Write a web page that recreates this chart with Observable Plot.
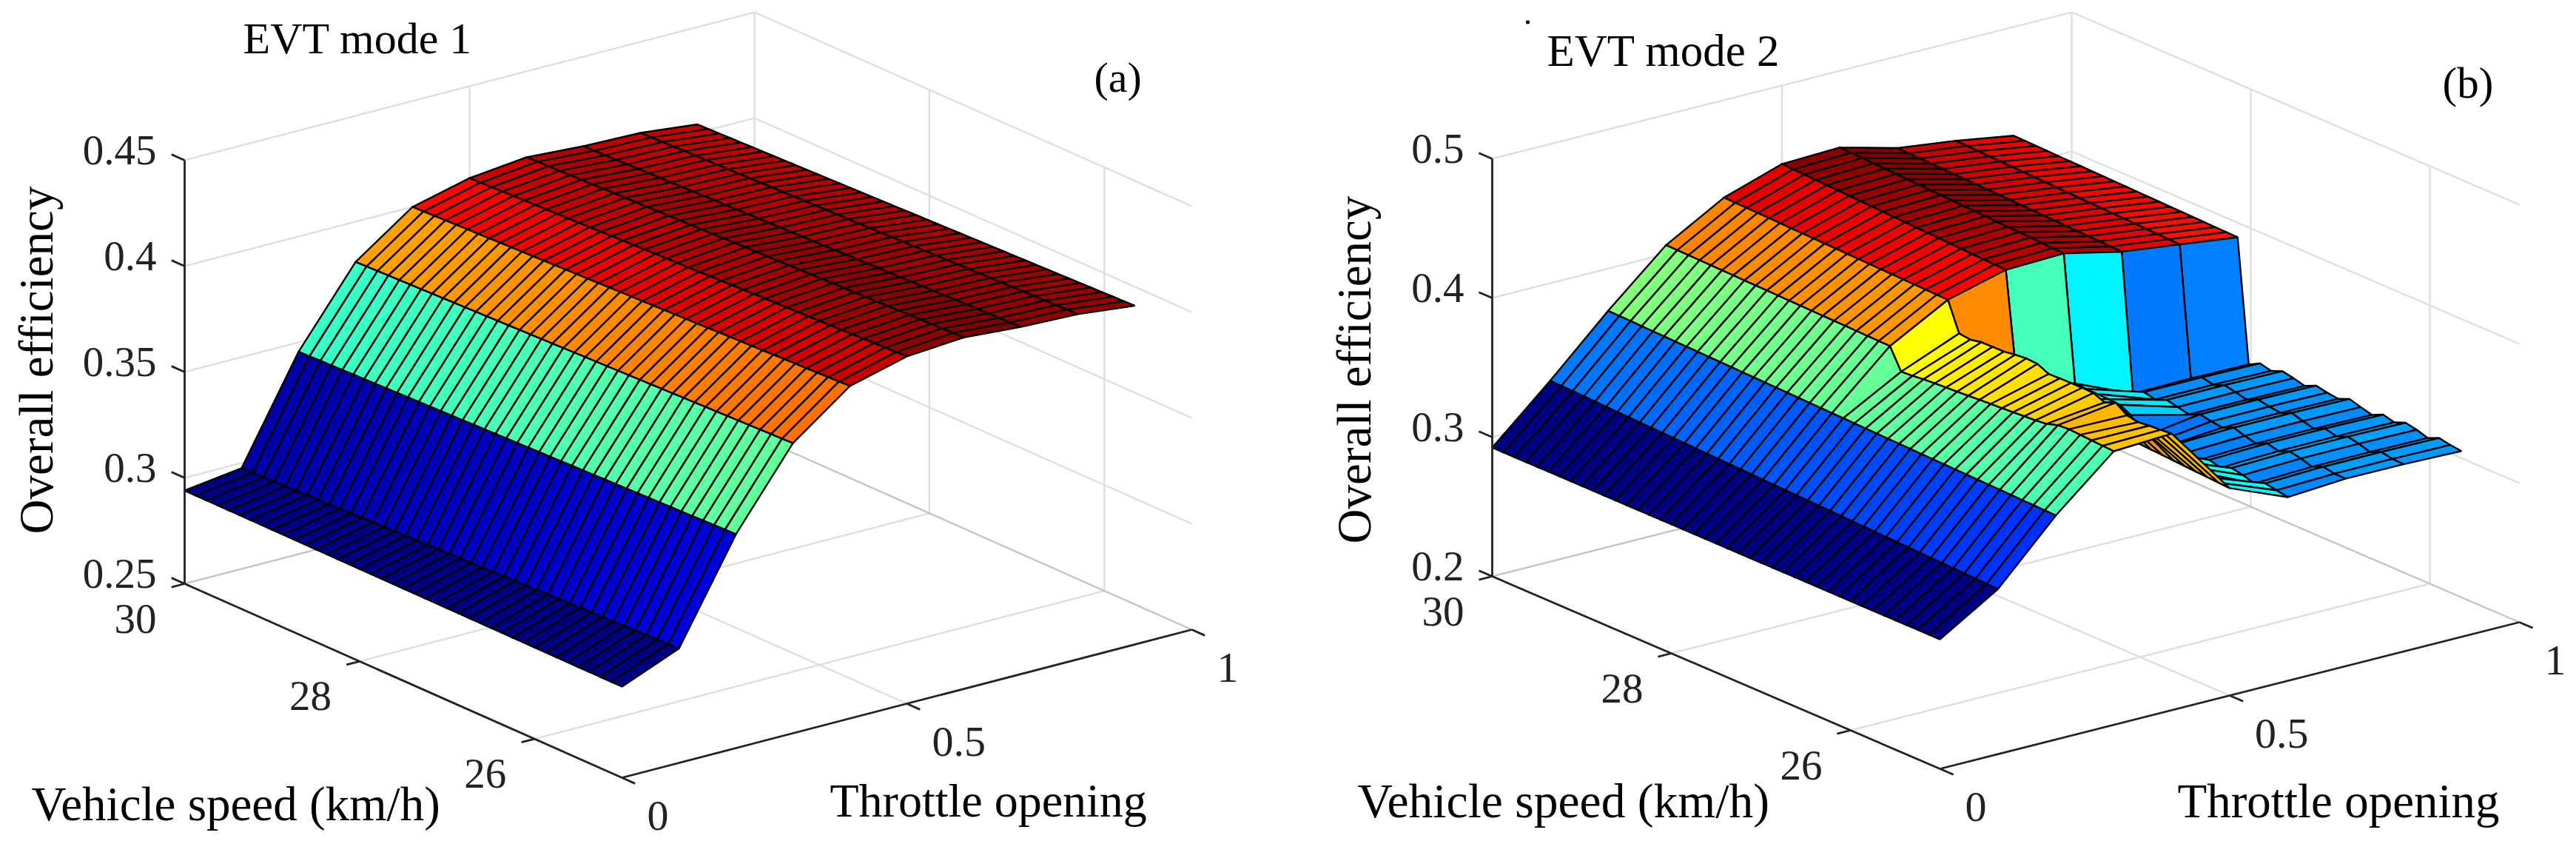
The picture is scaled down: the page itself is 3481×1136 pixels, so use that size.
<!DOCTYPE html>
<html>
<head>
<meta charset="utf-8">
<script src="https://cdn.jsdelivr.net/npm/d3@7"></script>
<script src="https://cdn.jsdelivr.net/npm/@observablehq/plot@0.6"></script>
<style>
html,body{margin:0;padding:0;background:#fff;}
#chart{display:flex;width:3481px;height:1136px;overflow:hidden;}
#chart svg{display:block;flex:none;}
</style>
</head>
<body>
<div id="chart"></div>
<script>
// ---------- values ----------
const throttle = [0, 0.1, 0.2, 0.3, 0.4, 0.5, 0.6, 0.7, 0.8, 0.9];
const speedTicks = [30, 28, 26];
const throttleTicks = [0, 0.5, 1];
const throttleTickLabels = ["0", "0.5", "1"];

// EVT mode 1: efficiency along throttle at the two ends of the speed range
const mode1Speeds = [30, 25];
const mode1At30 = [0.294, 0.2976, 0.3456, 0.381, 0.4, 0.4066, 0.4095, 0.4077, 0.407, 0.404];
const mode1At25 = [0.293, 0.304, 0.351, 0.387, 0.407, 0.414, 0.416, 0.414, 0.413, 0.41];
const mode1Ticks = [0.25, 0.3, 0.35, 0.4, 0.45];
const mode1TickLabels = ["0.25", "0.3", "0.35", "0.4", "0.45"];

// EVT mode 2: smooth throttle columns
const mode2SmoothSpeeds = [30, 25];
const mode2T00 = [0.2925, 0.293];
const mode2T01 = [0.33, 0.3186];
const mode2T02 = [0.3697, 0.361];
// EVT mode 2: columns that break at 27.5 km/h (the cliff)
const mode2StepSpeeds = [30, 27.5, 27.375, 27.25, 27.125, 27, 26.875, 26.75, 26.625, 26.5, 26.375, 26.25, 26.125, 26, 25.875, 25.75, 25.625, 25.5, 25.375, 25.25, 25.125, 25];
const mode2T03 = [0.4064, 0.403, 0.388, 0.3885, 0.3895, 0.39, 0.3905, 0.391, 0.3915, 0.392, 0.3925, 0.393, 0.3935, 0.394, 0.3945, 0.3955, 0.398, 0.3985, 0.398, 0.3975, 0.397, 0.3966];
const mode2T04 = [0.43, 0.4257, 0.405, 0.404, 0.4056, 0.4057, 0.4058, 0.407, 0.4078, 0.4073, 0.4035, 0.4038, 0.404, 0.404, 0.4037, 0.4004, 0.4037, 0.398, 0.3965, 0.3975, 0.398, 0.3987];
const mode2T05 = [0.4436, 0.4367, 0.36, 0.3595, 0.359, 0.3585, 0.358, 0.3575, 0.357, 0.3565, 0.356, 0.355, 0.354, 0.353, 0.3525, 0.352, 0.3515, 0.351, 0.3505, 0.35, 0.3495, 0.349];
const mode2T06 = [0.445, 0.438, 0.348, 0.3475, 0.3473, 0.347, 0.3465, 0.3425, 0.33, 0.329, 0.33, 0.3354, 0.333, 0.3309, 0.3345, 0.3324, 0.3356, 0.334, 0.3315, 0.335, 0.3335, 0.332];
const mode2T07 = [0.434, 0.4287, 0.33, 0.3347, 0.3328, 0.336, 0.3344, 0.3324, 0.336, 0.3344, 0.3334, 0.3368, 0.3344, 0.3323, 0.3359, 0.3338, 0.337, 0.3354, 0.3329, 0.3364, 0.3349, 0.3347];
const mode2T08 = [0.4287, 0.4234, 0.3305, 0.3348, 0.3329, 0.3361, 0.3345, 0.3325, 0.3361, 0.3345, 0.3335, 0.3369, 0.3345, 0.3324, 0.336, 0.3339, 0.3371, 0.3355, 0.333, 0.3365, 0.335, 0.3346];
const mode2T09 = [0.4218, 0.418, 0.33, 0.3343, 0.3324, 0.3356, 0.334, 0.332, 0.3356, 0.334, 0.333, 0.3364, 0.334, 0.3319, 0.3355, 0.3334, 0.3366, 0.335, 0.3325, 0.336, 0.3345, 0.3335];
const mode2Ticks = [0.2, 0.3, 0.4, 0.5];
const mode2TickLabels = ["0.2", "0.3", "0.4", "0.5"];

// ---------- drawing ----------
const MESH_CELLS = 40;                 // surface mesh cells across the speed range
const SERIF = "Liberation Serif";
const AXIS = "#222222";

function jet(x) {
  const c = v => Math.max(0, Math.min(1, v));
  const r = c(Math.min(4 * x - 1.5, -4 * x + 4.5));
  const g = c(Math.min(4 * x - 0.5, -4 * x + 3.5));
  const b = c(Math.min(4 * x + 0.5, -4 * x + 2.5));
  return `rgb(${Math.round(r * 255)},${Math.round(g * 255)},${Math.round(b * 255)})`;
}

function panel(cfg) {
  const project = (s, t, z) => [
    cfg.origin[0] + (30 - s) * cfg.perSpeed[0] + t * cfg.perThrottle[0],
    cfg.origin[1] + (30 - s) * cfg.perSpeed[1] + t * cfg.perThrottle[1] - (z - cfg.zTicks[0]) * cfg.perEff
  ];
  const zFloor = cfg.zTicks[0], zTop = cfg.zTicks[cfg.zTicks.length - 1];

  // surface: painter's order, far faces first
  const faces = [];
  const speedAt = j => 30 - 5 * j / MESH_CELLS;
  let zMin = Infinity, zMax = -Infinity;
  cfg.columns.forEach(col => col.forEach(v => { if (v < zMin) zMin = v; if (v > zMax) zMax = v; }));
  for (let i = throttle.length - 2; i >= 0; i--) {
    for (let j = 0; j < MESH_CELLS; j++) {
      const s0 = speedAt(j), s1 = speedAt(j + 1);
      const corner = (ii, s) => project(s, throttle[ii], cfg.columnScale[ii](s));
      const colour = cfg.columnScale[i](s1);
      const ring = [corner(i, s0), corner(i + 1, s0), corner(i + 1, s1), corner(i, s1), corner(i, s0)];
      const id = `${i}-${j}`;
      ring.forEach(p => faces.push({ x: p[0], y: p[1], face: id, eff: colour }));
    }
  }

  // box grid
  const seg = (a, b, kind) => ({ a: project(...a), b: project(...b), kind });
  const grid = [];
  cfg.zTicks.forEach((z, k) => {
    const kind = k === 0 ? "floor" : "wall";
    grid.push(seg([30, 0, z], [30, 1, z], kind));
    grid.push(seg([30, 1, z], [25, 1, z], kind));
  });
  throttleTicks.slice(1).forEach(t => grid.push(seg([30, t, zFloor], [30, t, zTop], "wall")));
  [28, 26].forEach(s => {
    grid.push(seg([s, 1, zFloor], [s, 1, zTop], "wall"));
    grid.push(seg([s, 0, zFloor], [s, 1, zFloor], "wall"));
  });
  grid.push(seg([30, 0.5, zFloor], [25, 0.5, zFloor], "wall"));

  // axes and ticks
  const axes = [
    seg([30, 0, zFloor], [30, 0, zTop]),
    seg([30, 0, zFloor], [25, 0, zFloor]),
    seg([25, 0, zFloor], [25, 1, zFloor])
  ];
  cfg.zTicks.forEach(z => axes.push(seg([30, 0, z], [30.15, 0, z])));
  speedTicks.forEach(s => axes.push(seg([s, 0, zFloor], [s, -0.023, zFloor])));
  throttleTicks.forEach(t => axes.push(seg([25, t, zFloor], [24.85, t, zFloor])));

  const zLabels = cfg.zTicks.map((z, k) => {
    const p = project(30, 0, z);
    return { x: p[0] - 38, y: p[1] + 5, text: cfg.zLabels[k] };
  });
  const sLabels = speedTicks.map(s => {
    const p = project(s, 0, zFloor);
    return { x: p[0] - 38, y: p[1] + 66, text: String(s) };
  });
  const tLabels = throttleTicks.map((t, k) => {
    const p = project(25, t, zFloor);
    return { x: p[0] + 34, y: p[1] + 70, text: throttleTickLabels[k] };
  });

  const txt = (rows, o) => Plot.text(rows, {
    x: "x", y: "y", text: "text", fontFamily: SERIF, lineAnchor: "bottom", ...o
  });

  return Plot.plot({
    width: cfg.width, height: 1136,
    marginTop: 0, marginRight: 0, marginBottom: 0, marginLeft: 0,
    style: { background: "white" },
    x: { axis: null, domain: [cfg.left, cfg.left + cfg.width], range: [0, cfg.width] },
    y: { axis: null, domain: [0, 1136], range: [0, 1136] },
    color: { type: "linear", domain: [zMin, zMax], interpolate: jet },
    marks: [
      Plot.link(grid.filter(d => d.kind === "wall"), {
        x1: d => d.a[0], y1: d => d.a[1], x2: d => d.b[0], y2: d => d.b[1],
        stroke: "#dedede", strokeWidth: 2.4
      }),
      Plot.link(grid.filter(d => d.kind === "floor"), {
        x1: d => d.a[0], y1: d => d.a[1], x2: d => d.b[0], y2: d => d.b[1],
        stroke: "#c4c4c4", strokeWidth: 2.4
      }),
      Plot.line(faces, {
        x: "x", y: "y", z: "face", fill: "eff",
        stroke: "black", strokeWidth: 2.4, strokeLinejoin: "miter", strokeLinecap: "square"
      }),
      Plot.link(axes, {
        x1: d => d.a[0], y1: d => d.a[1], x2: d => d.b[0], y2: d => d.b[1],
        stroke: AXIS, strokeWidth: 2.8
      }),
      txt(zLabels, { fontSize: 57, fill: AXIS, textAnchor: "end" }),
      txt(sLabels, { fontSize: 57, fill: AXIS, textAnchor: "end" }),
      txt(tLabels, { fontSize: 58, fill: AXIS, textAnchor: "start" }),
      txt([{ x: cfg.speedLabel[0], y: cfg.speedLabel[1], text: "Vehicle speed (km/h)" }], { fontSize: cfg.speedLabel[2], fill: "black", textAnchor: "start" }),
      txt([{ x: cfg.throttleLabel[0], y: cfg.throttleLabel[1], text: "Throttle opening" }], { fontSize: cfg.throttleLabel[2], fill: "black", textAnchor: "start" }),
      txt([{ x: cfg.effLabel[0], y: cfg.effLabel[1], text: "Overall efficiency" }], { fontSize: 65, fill: "black", textAnchor: "middle", rotate: -90 }),
      txt([{ x: cfg.title[0], y: cfg.title[1], text: cfg.title[3] }], { fontSize: cfg.title[2], fill: "black", textAnchor: "start" }),
      txt([{ x: cfg.tag[0], y: cfg.tag[1], text: cfg.tag[3] }], { fontSize: cfg.tag[2], fill: "black", textAnchor: "start" }),
      ...(cfg.speck ? [Plot.dot([cfg.speck], { x: d => d[0], y: d => d[1], symbol: "square", r: 2.6, fill: "black", stroke: "none" })] : [])
    ]
  });
}

// column scales: efficiency as a function of speed for each throttle value
const colScale = (speeds, values) => d3.scaleLinear().domain(speeds).range(values);

const mode1Columns = throttle.map((_, i) => [mode1At30[i], mode1At25[i]]);
const mode2Columns = [mode2T00, mode2T01, mode2T02, mode2T03, mode2T04, mode2T05, mode2T06, mode2T07, mode2T08, mode2T09];

const left = panel({
  left: 0, width: 1740,
  origin: [249, 788], perSpeed: [118.2, 52.4], perThrottle: [770, -200], perEff: 2860,
  zTicks: mode1Ticks, zLabels: mode1TickLabels,
  columns: mode1Columns,
  columnScale: mode1Columns.map(c => colScale(mode1Speeds, c)),
  speedLabel: [42, 1107, 65], throttleLabel: [1121, 1102, 64], effLabel: [70, 486],
  title: [328, 71.5, 60, "EVT mode 1"], tag: [1478, 123, 58, "(a)"]
});
const right = panel({
  left: 1740, width: 1741,
  origin: [2016, 778], perSpeed: [121, 52], perThrottle: [783, -198], perEff: 1880,
  zTicks: mode2Ticks, zLabels: mode2TickLabels,
  columns: mode2Columns,
  columnScale: mode2Columns.map(c => colScale(c.length === 2 ? mode2SmoothSpeeds : mode2StepSpeeds, c)),
  speedLabel: [1834, 1103, 65.5], throttleLabel: [2942, 1103, 65], effLabel: [1851, 499],
  title: [2090, 88, 61, "EVT mode 2"], tag: [3300, 131, 59, "(b)"], speck: [2064, 29.5]
});
const root = document.getElementById("chart");
root.appendChild(left);
root.appendChild(right);
</script>
</body>
</html>
